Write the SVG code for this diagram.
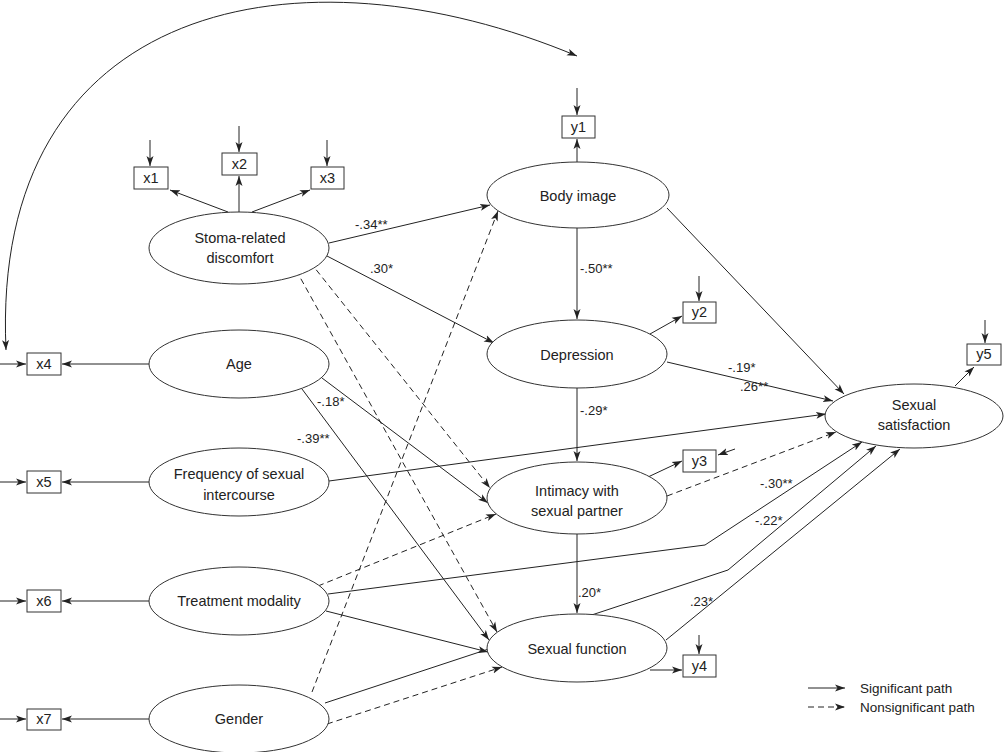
<svg xmlns="http://www.w3.org/2000/svg" width="1006" height="752" viewBox="0 0 1006 752">
<defs>
<marker id="ah" markerUnits="userSpaceOnUse" markerWidth="11" markerHeight="8" refX="10" refY="4" orient="auto-start-reverse">
<path d="M0,0.5 L10,4 L0,7.5 L2.5,4 z" fill="#222"/>
</marker>
<style>
.c{stroke:#222;stroke-width:1;fill:none;marker-end:url(#ah)}
.d{stroke-dasharray:6,4}
.n{fill:#fff;stroke:#333;stroke-width:1}
.b{fill:#fff;stroke:#333;stroke-width:1}
text{font-family:"Liberation Sans",Arial,sans-serif;fill:#222}
.t{font-size:14.5px;text-anchor:middle}
.l{font-size:13px}
.g{font-size:13.5px}
</style>
</defs>
<rect width="1006" height="752" fill="#fff"/>
<g id="connectors">
<path class="c" d="M6,350 C-10,0 300,-60 577,56" style="marker-start:url(#ah)"/>
<line class="c" x1="150" y1="140" x2="150" y2="166"/>
<line class="c" x1="239" y1="126" x2="239" y2="152"/>
<line class="c" x1="327" y1="140" x2="327" y2="166"/>
<line class="c" x1="577" y1="88" x2="577" y2="115"/>
<line class="c" x1="699" y1="276" x2="699" y2="301"/>
<line class="c" x1="735" y1="449" x2="718" y2="455"/>
<line class="c" x1="699" y1="635" x2="699" y2="654"/>
<line class="c" x1="985" y1="320" x2="985" y2="343"/>
<line class="c" x1="0" y1="364" x2="26" y2="364"/>
<line class="c" x1="0" y1="482" x2="26" y2="482"/>
<line class="c" x1="0" y1="601" x2="26" y2="601"/>
<line class="c" x1="0" y1="719" x2="26" y2="719"/>
<line class="c" x1="228" y1="212" x2="170" y2="190"/>
<line class="c" x1="239" y1="212" x2="239" y2="176"/>
<line class="c" x1="252" y1="212" x2="310" y2="190"/>
<line class="c" x1="577" y1="162" x2="577" y2="139"/>
<line class="c" x1="650" y1="334" x2="682" y2="316"/>
<line class="c" x1="648" y1="477" x2="682" y2="461"/>
<line class="c" x1="650" y1="670" x2="682" y2="670"/>
<line class="c" x1="955" y1="386" x2="974" y2="367"/>
<line class="c" x1="149" y1="364" x2="62" y2="364"/>
<line class="c" x1="149" y1="482" x2="62" y2="482"/>
<line class="c" x1="149" y1="601" x2="62" y2="601"/>
<line class="c" x1="149" y1="719" x2="62" y2="719"/>
<line class="c" x1="329" y1="243" x2="490" y2="205"/>
<line class="c" x1="327" y1="256" x2="494" y2="343"/>
<line class="c d" x1="310" y1="262" x2="490" y2="488"/>
<line class="c d" x1="296" y1="270" x2="497" y2="632"/>
<line class="c" x1="322" y1="378" x2="488" y2="503"/>
<line class="c" x1="302" y1="389" x2="489" y2="640"/>
<line class="c" x1="329" y1="481" x2="826" y2="414"/>
<line class="c" x1="667" y1="362" x2="833" y2="401"/>
<line class="c" x1="667" y1="208" x2="844" y2="394"/>
<line class="c d" x1="667" y1="496" x2="836" y2="432"/>
<polyline class="c" points="328,594 705,545 862,442"/>
<polyline class="c" points="325,703 728,570 876,446"/>
<line class="c" x1="666" y1="640" x2="900" y2="449"/>
<line class="c d" x1="318" y1="586" x2="496" y2="514"/>
<line class="c" x1="326" y1="611" x2="488" y2="652"/>
<line class="c d" x1="327" y1="724" x2="502" y2="667"/>
<line class="c d" x1="312" y1="692" x2="498" y2="211"/>
<line class="c" x1="577" y1="228" x2="577" y2="319"/>
<line class="c" x1="577" y1="388" x2="577" y2="461"/>
<line class="c" x1="577" y1="534" x2="577" y2="613"/>
<line class="c" x1="808" y1="688" x2="845" y2="688"/>
<line class="c d" x1="808" y1="707" x2="845" y2="707"/>
</g>
<g id="labels">
<text class="l" x="355" y="229">-.34**</text>
<text class="l" x="370" y="273">.30*</text>
<text class="l" x="580" y="273">-.50**</text>
<text class="l" x="580" y="415">-.29*</text>
<text class="l" x="578" y="597">.20*</text>
<text class="l" x="317" y="406">-.18*</text>
<text class="l" x="297" y="443">-.39**</text>
<text class="l" x="728" y="372">-.19*</text>
<text class="l" x="740" y="391">.26**</text>
<text class="l" x="760" y="488">-.30**</text>
<text class="l" x="755" y="525">-.22*</text>
<text class="l" x="690" y="606">.23*</text>
<text class="g" x="860" y="693">Significant path</text>
<text class="g" x="860" y="712">Nonsignificant path</text>
</g>
<g id="stoma"><ellipse class="n" cx="239" cy="248" rx="90" ry="36"/><text class="t" x="240" y="243">Stoma-related</text><text class="t" x="240" y="263">discomfort</text></g>
<g id="age"><ellipse class="n" cx="239" cy="364" rx="90" ry="34"/><text class="t" x="239" y="369">Age</text></g>
<g id="freq"><ellipse class="n" cx="239" cy="482" rx="90" ry="34"/><text class="t" x="239" y="479">Frequency of sexual</text><text class="t" x="239" y="500">intercourse</text></g>
<g id="treat"><ellipse class="n" cx="239" cy="601" rx="90" ry="34"/><text class="t" x="239" y="606">Treatment modality</text></g>
<g id="gender"><ellipse class="n" cx="239" cy="719" rx="90" ry="34"/><text class="t" x="239" y="724">Gender</text></g>
<g id="body"><ellipse class="n" cx="578" cy="195" rx="91" ry="33"/><text class="t" x="578" y="201">Body image</text></g>
<g id="depression"><ellipse class="n" cx="577" cy="354" rx="90" ry="34"/><text class="t" x="577" y="360">Depression</text></g>
<g id="intimacy"><ellipse class="n" cx="577" cy="498" rx="90" ry="36"/><text class="t" x="577" y="496">Intimacy with</text><text class="t" x="577" y="516">sexual partner</text></g>
<g id="sexfunc"><ellipse class="n" cx="577" cy="648" rx="90" ry="34"/><text class="t" x="577" y="654">Sexual function</text></g>
<g id="sexsat"><ellipse class="n" cx="914" cy="416" rx="89" ry="32"/><text class="t" x="914" y="410">Sexual</text><text class="t" x="914" y="430">satisfaction</text></g>
<g id="x1"><rect class="b" x="134" y="167" width="34" height="22"/><text class="t" x="151" y="183">x1</text></g>
<g id="x2"><rect class="b" x="222" y="153" width="35" height="22"/><text class="t" x="239.5" y="169">x2</text></g>
<g id="x3"><rect class="b" x="311" y="167" width="33" height="22"/><text class="t" x="327.5" y="183">x3</text></g>
<g id="x4"><rect class="b" x="27" y="353" width="34" height="22"/><text class="t" x="44" y="369">x4</text></g>
<g id="x5"><rect class="b" x="27" y="471" width="34" height="22"/><text class="t" x="44" y="487">x5</text></g>
<g id="x6"><rect class="b" x="27" y="590" width="34" height="22"/><text class="t" x="44" y="606">x6</text></g>
<g id="x7"><rect class="b" x="27" y="709" width="34" height="21"/><text class="t" x="44" y="724">x7</text></g>
<g id="y1"><rect class="b" x="562" y="116" width="33" height="22"/><text class="t" x="578.5" y="132">y1</text></g>
<g id="y2"><rect class="b" x="683" y="302" width="33" height="21"/><text class="t" x="699.5" y="317">y2</text></g>
<g id="y3"><rect class="b" x="683" y="450" width="33" height="22"/><text class="t" x="699.5" y="466">y3</text></g>
<g id="y4"><rect class="b" x="683" y="655" width="33" height="22"/><text class="t" x="699.5" y="671">y4</text></g>
<g id="y5"><rect class="b" x="967" y="344" width="34" height="21"/><text class="t" x="984" y="359">y5</text></g>
</svg>
